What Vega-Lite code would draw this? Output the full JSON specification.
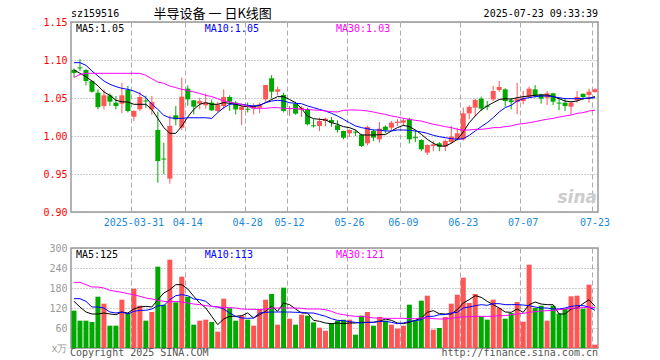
{
"$schema":"https://vega.github.io/schema/vega-lite/v6.json",
"background":"white",
"padding":{"left":42,"top":7,"right":5,"bottom":5},
"spacing":14,
"config":{"view":{"stroke":"#999","strokeWidth":1.5},"font":"DejaVu Sans Mono","axis":{"labelFont":"DejaVu Sans Mono","labelFontSize":10,"ticks":false,"domain":false,"title":null,"labelOverlap":false,"labelBound":false,"labelFlush":false}},
"datasets":{"k":[
{"d":"2025-03-17","o":1.087,"h":1.089,"l":1.077,"c":1.083,"v":112,"m5":1.087,"m10":1.0965,"m30":1.077,"v5":140,"v10":148,"v30":197},
{"d":"2025-03-18","o":1.0902,"h":1.101,"l":1.0855,"c":1.0889,"v":82,"m5":1.0825,"m10":1.0965,"m30":1.081,"v5":123,"v10":148,"v30":197},
{"d":"2025-03-19","o":1.0868,"h":1.088,"l":1.0667,"c":1.0724,"v":82,"m5":1.078,"m10":1.093,"m30":1.0825,"v5":108,"v10":140,"v30":190},
{"d":"2025-03-20","o":1.0724,"h":1.073,"l":1.057,"c":1.0583,"v":78,"m5":1.0724,"m10":1.0855,"m30":1.0825,"v5":102,"v10":123,"v30":183},
{"d":"2025-03-21","o":1.057,"h":1.0614,"l":1.035,"c":1.038,"v":154,"m5":1.066,"m10":1.079,"m30":1.0825,"v5":102,"v10":123,"v30":183},
{"d":"2025-03-24","o":1.0395,"h":1.0614,"l":1.035,"c":1.0535,"v":133,"m5":1.058,"m10":1.0724,"m30":1.0825,"v5":105,"v10":120,"v30":180},
{"d":"2025-03-25","o":1.0535,"h":1.056,"l":1.0395,"c":1.0452,"v":67,"m5":1.0535,"m10":1.068,"m30":1.0825,"v5":102,"v10":108,"v30":173},
{"d":"2025-03-26","o":1.0439,"h":1.0526,"l":1.035,"c":1.0395,"v":67,"m5":1.047,"m10":1.065,"m30":1.0825,"v5":100,"v10":105,"v30":170},
{"d":"2025-03-27","o":1.0425,"h":1.07,"l":1.03,"c":1.0535,"v":145,"m5":1.045,"m10":1.0627,"m30":1.0825,"v5":108,"v10":108,"v30":167},
{"d":"2025-03-28","o":1.0605,"h":1.066,"l":1.031,"c":1.0329,"v":105,"m5":1.0447,"m10":1.0614,"m30":1.0825,"v5":105,"v10":102,"v30":163},
{"d":"2025-03-31","o":1.0254,"h":1.034,"l":1.0197,"c":1.0329,"v":178,"m5":1.0417,"m10":1.0592,"m30":1.0825,"v5":117,"v10":110,"v30":160},
{"d":"2025-04-01","o":1.0351,"h":1.058,"l":1.033,"c":1.0513,"v":127,"m5":1.0417,"m10":1.0557,"m30":1.0825,"v5":123,"v10":113,"v30":155},
{"d":"2025-04-02","o":1.0468,"h":1.053,"l":1.037,"c":1.0455,"v":82,"m5":1.0417,"m10":1.0504,"m30":1.0798,"v5":125,"v10":113,"v30":150},
{"d":"2025-04-03","o":1.035,"h":1.0526,"l":1.028,"c":1.0447,"v":108,"m5":1.035,"m10":1.0417,"m30":1.0754,"v5":123,"v10":117,"v30":147},
{"d":"2025-04-07","o":1.0079,"h":1.032,"l":0.9386,"c":0.967,"v":244,"m5":1.023,"m10":1.035,"m30":1.071,"v5":145,"v10":127,"v30":143},
{"d":"2025-04-08","o":0.9703,"h":0.9912,"l":0.9496,"c":0.969,"v":130,"m5":1.011,"m10":1.0272,"m30":1.0693,"v5":165,"v10":127,"v30":140},
{"d":"2025-04-09","o":0.9439,"h":1.027,"l":0.9373,"c":1.0132,"v":265,"m5":1.0035,"m10":1.024,"m30":1.0658,"v5":175,"v10":145,"v30":138},
{"d":"2025-04-10","o":1.0272,"h":1.0395,"l":1.014,"c":1.0219,"v":137,"m5":1.0035,"m10":1.0232,"m30":1.0636,"v5":190,"v10":157,"v30":140},
{"d":"2025-04-11","o":1.011,"h":1.0768,"l":1.008,"c":1.0518,"v":214,"m5":1.013,"m10":1.0232,"m30":1.0614,"v5":190,"v10":160,"v30":138},
{"d":"2025-04-14","o":1.0623,"h":1.0667,"l":1.04,"c":1.0482,"v":154,"m5":1.025,"m10":1.024,"m30":1.06,"v5":177,"v10":157,"v30":135},
{"d":"2025-04-15","o":1.0469,"h":1.0475,"l":1.0285,"c":1.0386,"v":70,"m5":1.035,"m10":1.024,"m30":1.058,"v5":155,"v10":147,"v30":132},
{"d":"2025-04-16","o":1.0425,"h":1.0504,"l":1.035,"c":1.046,"v":82,"m5":1.0417,"m10":1.024,"m30":1.056,"v5":135,"v10":145,"v30":130},
{"d":"2025-04-17","o":1.0404,"h":1.056,"l":1.036,"c":1.0439,"v":85,"m5":1.0439,"m10":1.024,"m30":1.0535,"v5":120,"v10":140,"v30":127},
{"d":"2025-04-18","o":1.0439,"h":1.048,"l":1.033,"c":1.0338,"v":78,"m5":1.0417,"m10":1.0232,"m30":1.0518,"v5":95,"v10":125,"v30":125},
{"d":"2025-04-21","o":1.0329,"h":1.045,"l":1.031,"c":1.0412,"v":49,"m5":1.0417,"m10":1.0307,"m30":1.0491,"v5":70,"v10":123,"v30":123},
{"d":"2025-04-22","o":1.0395,"h":1.0614,"l":1.035,"c":1.0513,"v":148,"m5":1.0439,"m10":1.0373,"m30":1.046,"v5":87,"v10":117,"v30":122},
{"d":"2025-04-23","o":1.0513,"h":1.0535,"l":1.033,"c":1.0452,"v":119,"m5":1.043,"m10":1.0417,"m30":1.0447,"v5":95,"v10":105,"v30":121},
{"d":"2025-04-24","o":1.0439,"h":1.046,"l":1.0285,"c":1.035,"v":82,"m5":1.0417,"m10":1.0425,"m30":1.043,"v5":95,"v10":95,"v30":120},
{"d":"2025-04-25","o":1.0342,"h":1.04,"l":1.0145,"c":1.0386,"v":97,"m5":1.0395,"m10":1.0417,"m30":1.0417,"v5":97,"v10":90,"v30":117},
{"d":"2025-04-28","o":1.0358,"h":1.044,"l":1.031,"c":1.0345,"v":85,"m5":1.0386,"m10":1.0404,"m30":1.039,"v5":105,"v10":89,"v30":116},
{"d":"2025-04-29","o":1.036,"h":1.043,"l":1.0285,"c":1.0395,"v":67,"m5":1.0386,"m10":1.0395,"m30":1.0364,"v5":90,"v10":90,"v30":116},
{"d":"2025-04-30","o":1.0373,"h":1.0439,"l":1.03,"c":1.0417,"v":117,"m5":1.0404,"m10":1.0404,"m30":1.0364,"v5":100,"v10":105,"v30":115},
{"d":"2025-05-06","o":1.0482,"h":1.0671,"l":1.045,"c":1.0671,"v":145,"m5":1.0439,"m10":1.0439,"m30":1.0364,"v5":110,"v10":107,"v30":117},
{"d":"2025-05-07","o":1.0759,"h":1.08,"l":1.049,"c":1.0583,"v":162,"m5":1.048,"m10":1.046,"m30":1.0373,"v5":125,"v10":108,"v30":120},
{"d":"2025-05-08","o":1.0583,"h":1.065,"l":1.0535,"c":1.0614,"v":70,"m5":1.0518,"m10":1.047,"m30":1.0373,"v5":110,"v10":108,"v30":120},
{"d":"2025-05-09","o":1.054,"h":1.057,"l":1.031,"c":1.033,"v":181,"m5":1.0518,"m10":1.046,"m30":1.0364,"v5":135,"v10":108,"v30":120},
{"d":"2025-05-12","o":1.0355,"h":1.0395,"l":1.0263,"c":1.0368,"v":88,"m5":1.048,"m10":1.0439,"m30":1.036,"v5":130,"v10":108,"v30":120},
{"d":"2025-05-13","o":1.0425,"h":1.045,"l":1.028,"c":1.0294,"v":70,"m5":1.0439,"m10":1.043,"m30":1.036,"v5":117,"v10":107,"v30":120},
{"d":"2025-05-14","o":1.0351,"h":1.0395,"l":1.025,"c":1.0373,"v":100,"m5":1.036,"m10":1.0425,"m30":1.035,"v5":105,"v10":107,"v30":119},
{"d":"2025-05-15","o":1.0351,"h":1.037,"l":1.014,"c":1.0154,"v":97,"m5":1.0263,"m10":1.0395,"m30":1.035,"v5":105,"v10":105,"v30":117},
{"d":"2025-05-16","o":1.0141,"h":1.022,"l":1.011,"c":1.0128,"v":77,"m5":1.0228,"m10":1.0373,"m30":1.0342,"v5":83,"v10":105,"v30":117},
{"d":"2025-05-19","o":1.0132,"h":1.024,"l":1.0066,"c":1.0197,"v":61,"m5":1.022,"m10":1.035,"m30":1.0338,"v5":80,"v10":100,"v30":117},
{"d":"2025-05-20","o":1.0197,"h":1.024,"l":1.013,"c":1.0228,"v":52,"m5":1.021,"m10":1.0329,"m30":1.0329,"v5":75,"v10":95,"v30":115},
{"d":"2025-05-21","o":1.021,"h":1.025,"l":1.012,"c":1.0175,"v":75,"m5":1.0175,"m10":1.0298,"m30":1.032,"v5":73,"v10":88,"v30":110},
{"d":"2025-05-22","o":1.014,"h":1.0206,"l":1.0044,"c":1.0079,"v":82,"m5":1.0154,"m10":1.0263,"m30":1.0316,"v5":75,"v10":83,"v30":103},
{"d":"2025-05-23","o":1.0066,"h":1.007,"l":0.9956,"c":0.9978,"v":85,"m5":1.0123,"m10":1.022,"m30":1.0338,"v5":73,"v10":82,"v30":100},
{"d":"2025-05-26","o":1.0035,"h":1.0088,"l":0.9987,"c":1.0079,"v":85,"m5":1.011,"m10":1.0175,"m30":1.0342,"v5":75,"v10":79,"v30":97},
{"d":"2025-05-27","o":1.0057,"h":1.008,"l":1.0,"c":1.0044,"v":40,"m5":1.0079,"m10":1.0132,"m30":1.0342,"v5":75,"v10":77,"v30":95},
{"d":"2025-05-28","o":1.0018,"h":1.003,"l":0.9855,"c":0.9868,"v":97,"m5":1.0013,"m10":1.011,"m30":1.0338,"v5":77,"v10":75,"v30":95},
{"d":"2025-05-29","o":0.9904,"h":1.0135,"l":0.9877,"c":1.0118,"v":108,"m5":1.0013,"m10":1.0096,"m30":1.0329,"v5":77,"v10":77,"v30":93},
{"d":"2025-05-30","o":1.0066,"h":1.0088,"l":0.9934,"c":0.9978,"v":67,"m5":1.0013,"m10":1.0079,"m30":1.0316,"v5":77,"v10":77,"v30":90},
{"d":"2025-06-03","o":0.9956,"h":1.0184,"l":0.9912,"c":1.0096,"v":93,"m5":1.0018,"m10":1.0079,"m30":1.0298,"v5":80,"v10":80,"v30":90},
{"d":"2025-06-04","o":1.0123,"h":1.014,"l":1.0035,"c":1.0079,"v":82,"m5":1.0018,"m10":1.0066,"m30":1.0285,"v5":87,"v10":80,"v30":89},
{"d":"2025-06-05","o":1.011,"h":1.0197,"l":1.0079,"c":1.0175,"v":70,"m5":1.0066,"m10":1.0066,"m30":1.0263,"v5":83,"v10":77,"v30":89},
{"d":"2025-06-06","o":1.0172,"h":1.022,"l":1.013,"c":1.0189,"v":58,"m5":1.011,"m10":1.0079,"m30":1.025,"v5":75,"v10":73,"v30":89},
{"d":"2025-06-09","o":1.0175,"h":1.023,"l":1.013,"c":1.0206,"v":67,"m5":1.014,"m10":1.0079,"m30":1.0232,"v5":73,"v10":75,"v30":89},
{"d":"2025-06-10","o":1.0219,"h":1.024,"l":0.99,"c":0.9956,"v":130,"m5":1.0123,"m10":1.0075,"m30":1.022,"v5":77,"v10":80,"v30":88},
{"d":"2025-06-11","o":0.9985,"h":1.008,"l":0.992,"c":0.9971,"v":82,"m5":1.0079,"m10":1.0066,"m30":1.0206,"v5":83,"v10":82,"v30":88},
{"d":"2025-06-12","o":0.9947,"h":0.996,"l":0.98,"c":0.9825,"v":142,"m5":1.0022,"m10":1.0053,"m30":1.0197,"v5":90,"v10":85,"v30":90},
{"d":"2025-06-13","o":0.9781,"h":0.989,"l":0.975,"c":0.9882,"v":157,"m5":0.9956,"m10":1.0035,"m30":1.0175,"v5":107,"v10":95,"v30":90},
{"d":"2025-06-16","o":0.9868,"h":0.9934,"l":0.98,"c":0.989,"v":55,"m5":0.9904,"m10":1.0009,"m30":1.0154,"v5":112,"v10":95,"v30":88},
{"d":"2025-06-17","o":0.9904,"h":0.992,"l":0.98,"c":0.986,"v":60,"m5":0.9868,"m10":0.9991,"m30":1.014,"v5":103,"v10":100,"v30":87},
{"d":"2025-06-18","o":0.986,"h":0.9956,"l":0.98,"c":0.9934,"v":93,"m5":0.9868,"m10":0.9978,"m30":1.0123,"v5":102,"v10":100,"v30":87},
{"d":"2025-06-19","o":0.9921,"h":1.0132,"l":0.99,"c":0.9991,"v":133,"m5":0.9904,"m10":0.9965,"m30":1.011,"v5":102,"v10":105,"v30":89},
{"d":"2025-06-20","o":0.9956,"h":1.011,"l":0.994,"c":1.0035,"v":160,"m5":0.9956,"m10":0.9956,"m30":1.0088,"v5":115,"v10":107,"v30":92},
{"d":"2025-06-23","o":0.9956,"h":1.0373,"l":0.994,"c":1.0298,"v":211,"m5":1.0053,"m10":0.9965,"m30":1.0079,"v5":135,"v10":120,"v30":93},
{"d":"2025-06-24","o":1.0298,"h":1.0404,"l":1.022,"c":1.0382,"v":135,"m5":1.0175,"m10":1.0009,"m30":1.0079,"v5":145,"v10":123,"v30":94},
{"d":"2025-06-25","o":1.0373,"h":1.049,"l":1.026,"c":1.0474,"v":162,"m5":1.0263,"m10":1.0066,"m30":1.0088,"v5":157,"v10":127,"v30":95},
{"d":"2025-06-26","o":1.0491,"h":1.0518,"l":1.033,"c":1.036,"v":95,"m5":1.0342,"m10":1.0123,"m30":1.0088,"v5":152,"v10":130,"v30":95},
{"d":"2025-06-27","o":1.0398,"h":1.046,"l":1.034,"c":1.0385,"v":85,"m5":1.0395,"m10":1.0175,"m30":1.0096,"v5":140,"v10":128,"v30":95},
{"d":"2025-06-30","o":1.0482,"h":1.0658,"l":1.046,"c":1.0592,"v":145,"m5":1.0439,"m10":1.024,"m30":1.011,"v5":130,"v10":133,"v30":95},
{"d":"2025-07-01","o":1.0605,"h":1.0724,"l":1.058,"c":1.0645,"v":120,"m5":1.048,"m10":1.0316,"m30":1.011,"v5":120,"v10":133,"v30":97},
{"d":"2025-07-02","o":1.0614,"h":1.0627,"l":1.0386,"c":1.046,"v":88,"m5":1.0491,"m10":1.0373,"m30":1.0123,"v5":108,"v10":130,"v30":97},
{"d":"2025-07-03","o":1.047,"h":1.05,"l":1.035,"c":1.0445,"v":105,"m5":1.0485,"m10":1.0404,"m30":1.0132,"v5":107,"v10":130,"v30":100},
{"d":"2025-07-04","o":1.0447,"h":1.07,"l":1.0285,"c":1.0491,"v":138,"m5":1.0504,"m10":1.046,"m30":1.0154,"v5":117,"v10":130,"v30":102},
{"d":"2025-07-07","o":1.046,"h":1.0592,"l":1.0417,"c":1.0504,"v":79,"m5":1.0518,"m10":1.0491,"m30":1.0162,"v5":107,"v10":129,"v30":104},
{"d":"2025-07-08","o":1.0518,"h":1.065,"l":1.05,"c":1.0623,"v":250,"m5":1.0526,"m10":1.0504,"m30":1.0175,"v5":130,"v10":127,"v30":107},
{"d":"2025-07-09","o":1.0614,"h":1.067,"l":1.0504,"c":1.0535,"v":120,"m5":1.0535,"m10":1.0518,"m30":1.0189,"v5":138,"v10":123,"v30":109},
{"d":"2025-07-10","o":1.0548,"h":1.0557,"l":1.0425,"c":1.0491,"v":127,"m5":1.054,"m10":1.0526,"m30":1.0206,"v5":132,"v10":120,"v30":111},
{"d":"2025-07-11","o":1.0504,"h":1.0592,"l":1.0408,"c":1.0561,"v":82,"m5":1.054,"m10":1.0526,"m30":1.022,"v5":130,"v10":120,"v30":112},
{"d":"2025-07-14","o":1.0561,"h":1.057,"l":1.0408,"c":1.0452,"v":127,"m5":1.0518,"m10":1.0518,"m30":1.0232,"v5":130,"v10":117,"v30":113},
{"d":"2025-07-15","o":1.0439,"h":1.05,"l":1.0338,"c":1.0426,"v":103,"m5":1.0491,"m10":1.0504,"m30":1.025,"v5":102,"v10":117,"v30":115},
{"d":"2025-07-16","o":1.0439,"h":1.05,"l":1.033,"c":1.0395,"v":117,"m5":1.046,"m10":1.0491,"m30":1.0263,"v5":102,"v10":120,"v30":117},
{"d":"2025-07-17","o":1.0386,"h":1.045,"l":1.028,"c":1.0439,"v":155,"m5":1.045,"m10":1.0491,"m30":1.0276,"v5":117,"v10":125,"v30":119},
{"d":"2025-07-18","o":1.0469,"h":1.0592,"l":1.0439,"c":1.0513,"v":157,"m5":1.046,"m10":1.0491,"m30":1.0298,"v5":120,"v10":127,"v30":120},
{"d":"2025-07-21","o":1.0557,"h":1.0557,"l":1.047,"c":1.0513,"v":118,"m5":1.0491,"m10":1.0496,"m30":1.0307,"v5":133,"v10":127,"v30":121},
{"d":"2025-07-22","o":1.054,"h":1.0623,"l":1.0439,"c":1.0583,"v":190,"m5":1.0496,"m10":1.05,"m30":1.0329,"v5":145,"v10":123,"v30":123},
{"d":"2025-07-23","o":1.0579,"h":1.0627,"l":1.057,"c":1.0614,"v":10,"m5":1.0518,"m10":1.0504,"m30":1.034,"v5":125,"v10":113,"v30":121}
]},
"vconcat":[
{
"width":527,"height":190,
"data":{"name":"k"},
"layer":[
{"mark":{"type":"rule","strokeWidth":1},
 "encoding":{
  "x":{"field":"d","type":"ordinal","scale":{"paddingInner":0,"paddingOuter":0},
   "axis":{"values":["2025-03-31","2025-04-14","2025-04-28","2025-05-12","2025-05-26","2025-06-09","2025-06-23","2025-07-07","2025-07-23"],
    "labelExpr":"datum.value == '2025-03-31' ? datum.value : slice(datum.value, 5)","labelAngle":0,"labelColor":"#1a8ad8","labelPadding":5,"labelOverlap":false,
    "grid":true,"gridDash":[5,3],"gridColor":"#aaa","bandPosition":0.1,"title":null}},
  "y":{"field":"l","type":"quantitative","scale":{"domain":[0.9,1.15],"nice":false,"zero":false},
   "axis":{"values":[0.9,0.95,1.0,1.05,1.1,1.15],"tickCount":20,"format":".2f","labelColor":"#ff0000","labelPadding":4,"labelOverlap":false,"grid":true,"gridDash":[1,2],"gridColor":"#999","minExtent":28,"maxExtent":28,"title":null}},
  "y2":{"field":"h"},
  "color":{"condition":{"test":"datum.c >= datum.o","value":"#ff5555"},"value":"#00a800"}}},
{"mark":{"type":"bar","width":5},
 "encoding":{
  "x":{"field":"d","type":"ordinal"},
  "y":{"field":"o","type":"quantitative"},
  "y2":{"field":"c"},
  "color":{"condition":{"test":"datum.c >= datum.o","value":"#ff5555"},"value":"#00a800"}}},
{"mark":{"type":"line","color":"#000000","strokeWidth":1},
 "encoding":{"x":{"field":"d","type":"ordinal"},"y":{"field":"m5","type":"quantitative"}}},
{"mark":{"type":"line","color":"#0000ff","strokeWidth":1},
 "encoding":{"x":{"field":"d","type":"ordinal"},"y":{"field":"m10","type":"quantitative"}}},
{"mark":{"type":"line","color":"#ff00ff","strokeWidth":1},
 "encoding":{"x":{"field":"d","type":"ordinal"},"y":{"field":"m30","type":"quantitative"}}},
{"transform":[{"filter":"datum.d == '2025-03-17'"}],
 "mark":{"type":"text","text":"sz159516","align":"left","baseline":"middle","dx":-3,"fontSize":10,"font":"DejaVu Sans Mono","color":"#000"},
 "encoding":{"x":{"field":"d","type":"ordinal"},"y":{"datum":1.16,"type":"quantitative"}}},
{"transform":[{"filter":"datum.d == '2025-04-18'"}],
 "mark":{"type":"text","text":"半导设备 一 日K线图","align":"center","baseline":"middle","dx":1,"fontSize":13,"font":"Noto Sans CJK SC","color":"#000"},
 "encoding":{"x":{"field":"d","type":"ordinal"},"y":{"datum":1.16,"type":"quantitative"}}},
{"transform":[{"filter":"datum.d == '2025-07-23'"}],
 "mark":{"type":"text","text":"2025-07-23 09:33:39","align":"right","baseline":"middle","dx":3,"fontSize":10,"font":"DejaVu Sans Mono","color":"#000"},
 "encoding":{"x":{"field":"d","type":"ordinal"},"y":{"datum":1.16,"type":"quantitative"}}},
{"transform":[{"filter":"datum.d == '2025-03-17'"}],
 "mark":{"type":"text","text":"MA5:1.05","align":"left","baseline":"top","dx":2,"dy":2,"fontSize":10,"font":"DejaVu Sans Mono","color":"#000000"},
 "encoding":{"x":{"field":"d","type":"ordinal"},"y":{"datum":1.15,"type":"quantitative"}}},
{"transform":[{"filter":"datum.d == '2025-04-17'"}],
 "mark":{"type":"text","text":"MA10:1.05","align":"left","baseline":"top","dx":-1,"dy":2,"fontSize":10,"font":"DejaVu Sans Mono","color":"#0000ff"},
 "encoding":{"x":{"field":"d","type":"ordinal"},"y":{"datum":1.15,"type":"quantitative"}}},
{"transform":[{"filter":"datum.d == '2025-05-22'"}],
 "mark":{"type":"text","text":"MA30:1.03","align":"left","baseline":"top","dx":-1.5,"dy":2,"fontSize":10,"font":"DejaVu Sans Mono","color":"#ff00ff"},
 "encoding":{"x":{"field":"d","type":"ordinal"},"y":{"datum":1.15,"type":"quantitative"}}},
{"transform":[{"filter":"datum.d == '2025-07-23'"}],
 "mark":{"type":"text","text":"sina","align":"right","baseline":"middle","dx":2,"fontSize":17,"fontStyle":"italic","fontWeight":"bold","font":"DejaVu Sans","color":"#cccccc"},
 "encoding":{"x":{"field":"d","type":"ordinal"},"y":{"datum":0.918,"type":"quantitative"}}}
]
},
{
"width":527,"height":100,
"data":{"name":"k"},
"layer":[
{"mark":{"type":"bar","width":5},
 "encoding":{
  "x":{"field":"d","type":"ordinal","scale":{"paddingInner":0,"paddingOuter":0},
   "axis":{"values":["2025-03-31","2025-04-14","2025-04-28","2025-05-12","2025-05-26","2025-06-09","2025-06-23","2025-07-07","2025-07-23"],
    "labels":false,"grid":true,"gridDash":[5,3],"gridColor":"#aaa","bandPosition":0.1,"title":null}},
  "y":{"field":"v","type":"quantitative","scale":{"domain":[0,300],"nice":false},
   "axis":{"values":[0,60,120,180,240,300],"tickCount":20,"labelExpr":"datum.value == 0 ? 'x万' : datum.label","labelColor":"#999","labelPadding":4,"labelOverlap":false,"grid":true,"gridDash":[1,2],"gridColor":"#999","minExtent":28,"maxExtent":28,"title":null}},
  "color":{"condition":{"test":"datum.c >= datum.o","value":"#ff5555"},"value":"#00a800"}}},
{"mark":{"type":"line","color":"#000000","strokeWidth":1},
 "encoding":{"x":{"field":"d","type":"ordinal"},"y":{"field":"v5","type":"quantitative"}}},
{"mark":{"type":"line","color":"#0000ff","strokeWidth":1},
 "encoding":{"x":{"field":"d","type":"ordinal"},"y":{"field":"v10","type":"quantitative"}}},
{"mark":{"type":"line","color":"#ff00ff","strokeWidth":1},
 "encoding":{"x":{"field":"d","type":"ordinal"},"y":{"field":"v30","type":"quantitative"}}},
{"transform":[{"filter":"datum.d == '2025-03-17'"}],
 "mark":{"type":"text","text":"MA5:125","align":"left","baseline":"top","dx":2,"dy":2,"fontSize":10,"font":"DejaVu Sans Mono","color":"#000000"},
 "encoding":{"x":{"field":"d","type":"ordinal"},"y":{"datum":300,"type":"quantitative"}}},
{"transform":[{"filter":"datum.d == '2025-04-17'"}],
 "mark":{"type":"text","text":"MA10:113","align":"left","baseline":"top","dx":-1,"dy":2,"fontSize":10,"font":"DejaVu Sans Mono","color":"#0000ff"},
 "encoding":{"x":{"field":"d","type":"ordinal"},"y":{"datum":300,"type":"quantitative"}}},
{"transform":[{"filter":"datum.d == '2025-05-22'"}],
 "mark":{"type":"text","text":"MA30:121","align":"left","baseline":"top","dx":-1.5,"dy":2,"fontSize":10,"font":"DejaVu Sans Mono","color":"#ff00ff"},
 "encoding":{"x":{"field":"d","type":"ordinal"},"y":{"datum":300,"type":"quantitative"}}},
{"transform":[{"filter":"datum.d == '2025-03-17'"}],
 "mark":{"type":"text","text":"Copyright 2025 SINA.COM","align":"left","baseline":"middle","dx":-4,"fontSize":10,"font":"DejaVu Sans Mono","color":"#555"},
 "encoding":{"x":{"field":"d","type":"ordinal"},"y":{"datum":-15,"type":"quantitative"}}},
{"transform":[{"filter":"datum.d == '2025-07-23'"}],
 "mark":{"type":"text","text":"http://finance.sina.com.cn","align":"right","baseline":"middle","dx":3,"fontSize":10,"font":"DejaVu Sans Mono","color":"#555"},
 "encoding":{"x":{"field":"d","type":"ordinal"},"y":{"datum":-15,"type":"quantitative"}}}
]
}
]
}
